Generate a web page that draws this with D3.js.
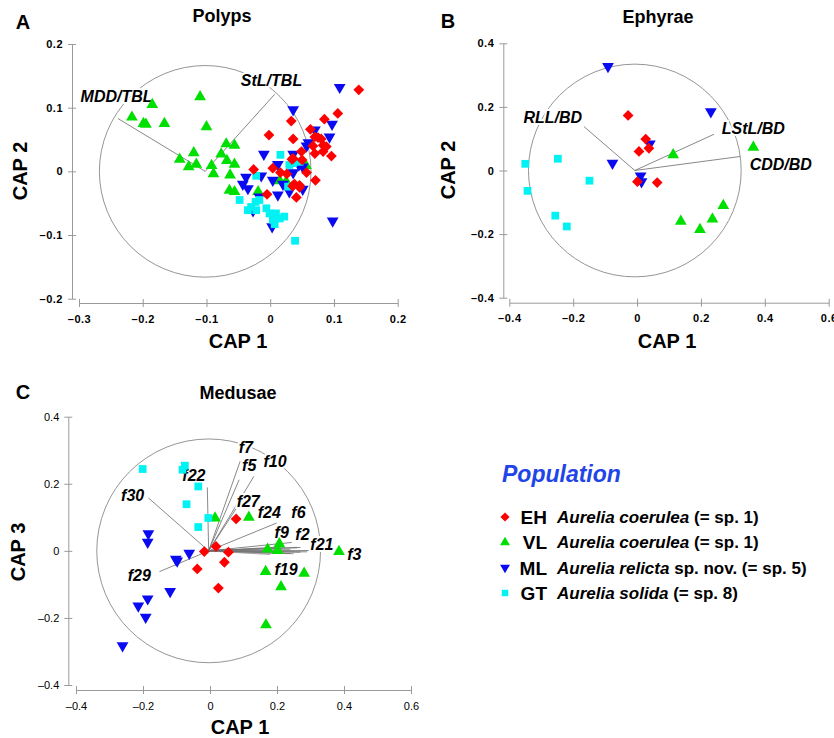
<!DOCTYPE html>
<html>
<head>
<meta charset="utf-8">
<script src="https://cdn.jsdelivr.net/npm/d3@7"></script>
<style>
body{margin:0;background:#fff;}
text{font-family:Arial,"Liberation Sans",sans-serif;}
</style>
</head>
<body>
<svg id="chart" width="834" height="738"></svg>
<script>
// ---- data ----
const groups = ["EH","VL","ML","GT"];
const groupGenus = ["Aurelia coerulea","Aurelia coerulea","Aurelia relicta","Aurelia solida"];
const groupNote = [" (= sp. 1)"," (= sp. 1)"," sp. nov. (= sp. 5)"," (= sp. 8)"];

// Polyps  (CAP1, CAP2)
const polypsVL = [[-0.217,0.085],[-0.199,0.075],[-0.195,0.074],[-0.185,0.105],[-0.166,0.075],[-0.110,0.117],
  [-0.100,0.070],[-0.142,0.019],[-0.120,0.029],[-0.128,0.007],[-0.116,0.011],[-0.092,0.009],[-0.089,-0.004],
  [-0.077,0.027],[-0.069,0.043],[-0.056,0.041],[-0.068,0.017],[-0.056,0.011],[-0.063,-0.006],[-0.064,-0.030],
  [-0.056,-0.032],[-0.019,-0.032],[0.015,-0.015],[0.025,-0.016],[0.056,0.009]];
const polypsML = [[0.109,0.132],[0.036,0.097],[0.070,0.065],[0.097,0.074],[0.093,0.054],[0.057,0.040],
  [-0.010,0.027],[0.036,0.027],[0.012,0.011],[0.051,0.007],[0.036,-0.002],[-0.038,-0.009],[-0.014,-0.007],
  [0.004,-0.014],[-0.043,-0.020],[-0.035,-0.027],[0.012,-0.037],[0.030,-0.032],[0.051,-0.028],[0.003,-0.087],
  [0.098,-0.078],[-0.027,-0.062],[-0.017,-0.040],[0.060,0.045],[0.045,0.010],[0.020,-0.020]];
const polypsGT = [[0.016,0.026],[0.036,0.013],[0.046,0.015],[-0.022,-0.007],[0.028,-0.024],[-0.048,-0.045],
  [-0.035,-0.061],[-0.023,-0.048],[-0.017,-0.045],[-0.022,-0.061],[-0.006,-0.058],[-0.001,-0.066],[0.009,-0.066],
  [0.022,-0.071],[0.004,-0.076],[0.007,-0.083],[0.039,-0.109],[0.015,-0.074],[-0.030,-0.056],[0.030,0.010]];
const polypsEH = [[0.139,0.128],[0.106,0.091],[0.085,0.082],[0.033,0.079],[0.063,0.066],[-0.002,0.057],
  [0.036,0.051],[0.070,0.054],[0.080,0.051],[0.067,0.040],[0.088,0.039],[0.083,0.031],[0.070,0.028],[0.096,0.024],
  [0.049,0.031],[0.036,0.020],[0.050,0.018],[0.004,0.005],[-0.026,0.003],[0.016,-0.002],[0.026,-0.004],
  [0.057,-0.002],[0.071,-0.014],[0.038,-0.020],[0.035,-0.023],[0.046,-0.025],[-0.005,-0.036],[0.041,-0.041],
  [0.075,0.053],[0.083,0.041],[0.034,0.019],[0.046,-0.022]];
const polypsVectors = [
  {name:"MDD/TBL", x:-0.239, y:0.083, lx:-0.241, ly:0.117},
  {name:"StL/TBL", x:0.007, y:0.121, lx:0.002, ly:0.143}
];

// Ephyrae  (CAP1, CAP2)
const ephyraeVL = [[0.364,0.073],[0.113,0.049],[0.137,-0.160],[0.197,-0.186],[0.236,-0.153],[0.270,-0.110]];
const ephyraeML = [[-0.091,0.327],[0.231,0.185],[-0.077,0.023],[0.011,-0.017],[0.014,-0.035],[0.040,0.084]];
const ephyraeGT = [[-0.350,0.021],[-0.248,0.037],[-0.343,-0.064],[-0.149,-0.032],[-0.256,-0.142],[-0.220,-0.176]];
const ephyraeEH = [[-0.028,0.173],[0.027,0.099],[0.037,0.070],[0.006,0.060],[0.001,-0.035],[0.063,-0.038]];
const ephyraeVectors = [
  {name:"RLL/BD", x:-0.166, y:0.138, lx:-0.264, ly:0.168},
  {name:"LStL/BD", x:0.241, y:0.114, lx:0.364, ly:0.133},
  {name:"CDD/BD", x:0.322, y:0.044, lx:0.450, ly:0.018}
];

// Medusae  (CAP1, CAP3)
const medusaeVL = [[0.015,0.098],[0.116,0.100],[0.385,-0.002],[0.207,0.021],[0.172,0.005],[0.202,0.001],
  [0.166,-0.062],[0.281,-0.067],[0.212,-0.107],[0.167,-0.221]];
const medusaeML = [[-0.184,0.051],[-0.186,0.026],[-0.062,-0.007],[-0.102,-0.025],[-0.098,-0.030],[-0.119,-0.121],
  [-0.186,-0.143],[-0.214,-0.164],[-0.192,-0.198],[-0.261,-0.283]];
const medusaeGT = [[-0.201,0.244],[-0.075,0.254],[-0.082,0.242],[-0.035,0.192],[-0.070,0.139],[-0.035,0.071],[-0.005,0.098]];
const medusaeEH = [[0.078,0.095],[0.018,0.013],[-0.017,-0.002],[0.055,-0.004],[-0.038,-0.054],[0.043,-0.034],[0.025,-0.111]];
const medusaeVectors = [
  {name:"f7", x:0.090, y:0.267, lx:0.107, ly:0.307},
  {name:"f5", x:0.087, y:0.212, lx:0.117, ly:0.254},
  {name:"f10", x:0.131, y:0.222, lx:0.194, ly:0.267},
  {name:"f22", x:-0.008, y:0.189, lx:-0.048, ly:0.224},
  {name:"f30", x:-0.184, y:0.158, lx:-0.231, ly:0.164},
  {name:"f27", x:0.082, y:0.132, lx:0.114, ly:0.147},
  {name:"f24", x:0.199, y:0.083, lx:0.177, ly:0.114},
  {name:"f6", x:0.244, y:0.025, lx:0.264, ly:0.114},
  {name:"f9", x:0.220, y:0.012, lx:0.214, ly:0.055},
  {name:"f2", x:0.270, y:0.010, lx:0.276, ly:0.048},
  {name:"f21", x:0.318, y:0.001, lx:0.334, ly:0.018},
  {name:"f3", x:0.290, y:-0.003, lx:0.431, ly:-0.010},
  {name:"f19", x:0.240, y:-0.008, lx:0.227, ly:-0.055},
  {name:"f29", x:-0.151, y:-0.062, lx:-0.211, ly:-0.072}
];
const medusaeOtherVectors = [[0.26,0.010],[0.24,0.004],[0.27,-0.004],[0.22,-0.006],[0.20,0.008],[0.18,-0.010],[0.25,-0.008],[0.15,0.004]];

const ticksA_x = [-0.3,-0.2,-0.1,0,0.1,0.2];
const ticksA_y = [-0.2,-0.1,0,0.1,0.2];
const ticksBC = [-0.4,-0.2,0,0.2,0.4,0.6];
const ticksBC_y = [-0.4,-0.2,0,0.2,0.4];

// ---- styles ----
const colors = {EH:"#ff0000", VL:"#00e000", ML:"#0a0af0", GT:"#00f2f2"};
const shapes = {EH:d3.symbolSquare, VL:d3.symbolTriangle, ML:d3.symbolTriangle, GT:d3.symbolSquare};
const rotate = {EH:45, VL:0, ML:180, GT:0};
const sizes = {EH:58, VL:60, ML:60, GT:60};
const drawOrder = ["VL","ML","GT","EH"];

const svg = d3.select("#chart");
const tickFmt = d => d === 0 ? "0" : (d < 0 ? "\u2013" : "") + d3.format(".1f")(Math.abs(d));

function drawPanel(p){
  const g = svg.append("g");
  const x = d3.scaleLinear().domain(p.xDomain).range(p.xRange);
  const y = d3.scaleLinear().domain(p.yDomain).range(p.yRange);

  // axes (detached from the plot area, ticks cross the line)
  const xg = g.append("g").attr("transform", `translate(0,${p.axisX})`)
    .call(d3.axisBottom(x).tickValues(p.xTicks).tickSizeInner(4).tickSizeOuter(0).tickPadding(8).tickFormat(tickFmt));
  const yg = g.append("g").attr("transform", `translate(${p.axisY},0)`)
    .call(d3.axisLeft(y).tickValues(p.yTicks).tickSizeInner(4).tickSizeOuter(0).tickPadding(5).tickFormat(tickFmt));
  [xg, yg].forEach(a => {
    a.select(".domain").attr("stroke","#9a9a9a");
    a.selectAll(".tick line").attr("stroke","#9a9a9a");
    a.selectAll(".tick text").attr("fill","#000")
      .style("font-size","11px").style("font-weight", p.bold ? "bold" : "normal")
      .style("letter-spacing", p.bold ? "0.5px" : "0px")
      .style("font-family","Arial, 'Liberation Sans', sans-serif");
  });
  xg.selectAll(".tick line").attr("y1",-4);
  yg.selectAll(".tick line").attr("x1",4);

  // circle
  const rpx = x(p.circle.cx + p.circle.r) - x(p.circle.cx);
  g.append("circle").attr("cx", x(p.circle.cx)).attr("cy", y(p.circle.cy)).attr("r", rpx)
    .attr("fill","none").attr("stroke","#7a7a7a").attr("stroke-width",0.8);

  // vectors
  (p.others || []).forEach(v => {
    g.append("line").attr("x1", x(p.circle.cx)).attr("y1", y(p.circle.cy))
      .attr("x2", x(v[0])).attr("y2", y(v[1])).attr("stroke","#a8a8a8").attr("stroke-width",1.4);
  });
  g.selectAll(".vec").data(p.vectors).join("line")
    .attr("x1", x(p.circle.cx)).attr("y1", y(p.circle.cy))
    .attr("x2", d => x(d.x)).attr("y2", d => y(d.y))
    .attr("stroke","#6a6a6a").attr("stroke-width",0.8);
  g.selectAll(".vlab").data(p.vectors).join("text")
    .attr("x", d => x(d.lx)).attr("y", d => y(d.ly)).attr("dy","0.35em")
    .attr("text-anchor","middle")
    .style("font-size","16px").style("font-weight","bold").style("font-style","italic")
    .attr("stroke","#fff").attr("stroke-width",4).attr("paint-order","stroke")
    .text(d => d.name);

  // points
  drawOrder.forEach(k => {
    const sym = d3.symbol().type(shapes[k]).size(sizes[k]);
    g.selectAll(".pt-" + k).data(p.points[k]).join("path")
      .attr("d", sym)
      .attr("transform", d => `translate(${x(d[0])},${y(d[1])}) rotate(${rotate[k]})`)
      .attr("fill", colors[k]);
  });

  // titles and axis labels
  g.append("text").attr("x", p.letterPos[0]).attr("y", p.letterPos[1]).attr("dy","0.35em")
    .attr("text-anchor","middle").style("font-size","20px").style("font-weight","bold").text(p.letter);
  g.append("text").attr("x", p.titlePos[0]).attr("y", p.titlePos[1]).attr("dy","0.35em")
    .attr("text-anchor","middle").style("font-size","18px").style("font-weight","bold").text(p.title);
  g.append("text").attr("x", p.xLabPos[0]).attr("y", p.xLabPos[1]).attr("dy","0.35em")
    .attr("text-anchor","middle").style("font-size","20px").style("font-weight","bold").text(p.xLab);
  g.append("text").attr("transform", `translate(${p.yLabPos[0]},${p.yLabPos[1]}) rotate(-90)`).attr("dy","0.35em")
    .attr("text-anchor","middle").style("font-size","20px").style("font-weight","bold").text(p.yLab);
}

drawPanel({
  letter:"A", title:"Polyps", xLab:"CAP 1", yLab:"CAP 2",
  xDomain:[-0.3,0.2], yDomain:[-0.2,0.2], xRange:[79,397.7], yRange:[298.7,44],
  xTicks:ticksA_x, yTicks:ticksA_y, axisX:303, axisY:72, bold:true,
  circle:{cx:-0.102, cy:0, r:0.166}, vectors:polypsVectors,
  points:{EH:polypsEH, VL:polypsVL, ML:polypsML, GT:polypsGT},
  letterPos:[23,22], titlePos:[222,16], xLabPos:[238,341], yLabPos:[20,171]
});
drawPanel({
  letter:"B", title:"Ephyrae", xLab:"CAP 1", yLab:"CAP 2",
  xDomain:[-0.4,0.6], yDomain:[-0.4,0.4], xRange:[509.3,828.7], yRange:[297.7,43.3],
  xTicks:ticksBC, yTicks:ticksBC_y, axisX:302.7, axisY:503.3, bold:true,
  circle:{cx:-0.007, cy:0, r:0.333}, vectors:ephyraeVectors,
  points:{EH:ephyraeEH, VL:ephyraeVL, ML:ephyraeML, GT:ephyraeGT},
  letterPos:[448,21], titlePos:[658,17], xLabPos:[667,341], yLabPos:[448,170]
});
drawPanel({
  letter:"C", title:"Medusae", xLab:"CAP 1", yLab:"CAP 3",
  xDomain:[-0.4,0.6], yDomain:[-0.4,0.4], xRange:[76,411], yRange:[685,416.7],
  xTicks:ticksBC, yTicks:ticksBC_y, axisX:690, axisY:68.3, bold:false,
  circle:{cx:-0.004, cy:0, r:0.334}, vectors:medusaeVectors, others:medusaeOtherVectors,
  points:{EH:medusaeEH, VL:medusaeVL, ML:medusaeML, GT:medusaeGT},
  letterPos:[23,392], titlePos:[238,393], xLabPos:[240,727], yLabPos:[18,552]
});

// ---- legend ----
const legend = svg.append("g");
legend.append("text").attr("x",502).attr("y",482)
  .style("font-size","23px").style("font-weight","bold").style("font-style","italic")
  .attr("fill","#1f45e8").text("Population");
const rowY = d3.scalePoint().domain(groups).range([524,600]);
groups.forEach((k, i) => {
  const by = rowY(k);
  legend.append("path").attr("d", d3.symbol().type(shapes[k]).size(42)())
    .attr("transform", `translate(505,${by - 7}) rotate(${rotate[k]})`).attr("fill", colors[k]);
  legend.append("text").attr("x",547).attr("y",by).attr("text-anchor","end")
    .style("font-size","19px").style("font-weight","bold").text(k);
  const t = legend.append("text").attr("x",557).attr("y",by - 1)
    .style("font-size","17px").style("font-weight","bold");
  t.append("tspan").style("font-style","italic").text(groupGenus[i]);
  t.append("tspan").text(groupNote[i]);
});
</script>
</body>
</html>
